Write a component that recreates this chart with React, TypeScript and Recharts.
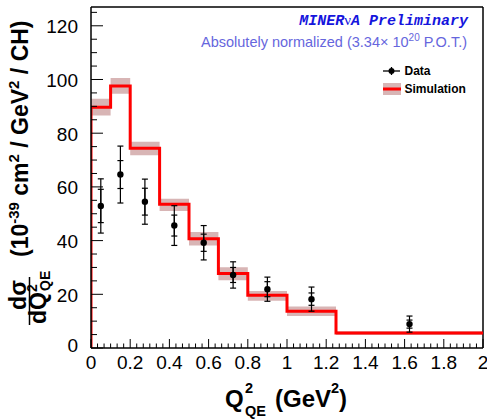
import React from 'react';
import { ComposedChart, Line, Area, Scatter, ErrorBar, XAxis, YAxis, ReferenceLine } from 'recharts';

// ---- data ----
const binEdges = [0, 0.1, 0.2, 0.35, 0.5, 0.65, 0.8, 1.0, 1.25, 2.0];
const simValues = [89.7, 97.6, 74.4, 53.5, 40.7, 27.7, 19.6, 13.7, 5.6];
const simBandLow = [86.6, 94.7, 71.8, 51.0, 38.2, 25.2, 17.6, 11.9, 4.8];
const simBandHigh = [92.8, 100.6, 76.8, 55.6, 43.2, 30.1, 21.2, 15.5, 6.2];

const dataX = [0.05, 0.15, 0.275, 0.425, 0.575, 0.725, 0.9, 1.125, 1.625];
const dataValues = [52.9, 64.6, 54.5, 45.6, 39.2, 27.2, 21.9, 18.2, 8.9];
const dataTotalErr = [10.1, 10.6, 8.4, 7.4, 6.4, 4.9, 4.5, 4.5, 3.0];
const dataStatErr = [6.2, 5.2, 5.0, 3.9, 3.2, 2.8, 2.8, 2.3, 1.5];

const xMajorTicks = [0, 0.2, 0.4, 0.6, 0.8, 1, 1.2, 1.4, 1.6, 1.8, 2];
const xMinorPerMajor = 6;
const yMajorTicks = [0, 20, 40, 60, 80, 100, 120];
const yMinorPerMajor = 4;
const xMax = 2;
const yMax = 127;

// ---- derived tables ----
const nBins = simValues.length;
const histLine = [
  { x: binEdges[0], y: 0 },
  ...simValues.map((v, i) => ({ x: binEdges[i], y: v })),
  { x: binEdges[nBins], y: simValues[nBins - 1] },
];
const histBand = binEdges.map((e, i) => {
  const k = Math.min(i, nBins - 1);
  return { x: e, band: [simBandLow[k], simBandHigh[k]] };
});
const dataPts = dataX.map((x, i) => ({
  x,
  y: dataValues[i],
  tot: dataTotalErr[i],
  stat: dataStatErr[i],
}));

const xStep = (xMajorTicks[1] - xMajorTicks[0]) / xMinorPerMajor;
const xTickValues: number[] = [];
for (let i = 0; i * xStep <= xMax + 1e-9; i++) xTickValues.push(Math.round(i * xStep * 1e6) / 1e6);
const yStep = (yMajorTicks[1] - yMajorTicks[0]) / yMinorPerMajor;
const yTickValues: number[] = [];
for (let v = 0; v <= yMax; v += yStep) yTickValues.push(v);

const SANS = 'Liberation Sans, Arial, Helvetica, sans-serif';

const isXMajor = (v: number) => xMajorTicks.some((t) => Math.abs(t - v) < 1e-6);
const isYMajor = (v: number) => yMajorTicks.some((t) => Math.abs(t - v) < 1e-6);

const XTick = (props: any) => {
  const { x, y, payload } = props;
  const v = payload.value;
  const major = isXMajor(v);
  return (
    <g>
      <line x1={x} x2={x} y1={y} y2={y - (major ? 9 : 4.5)} stroke="#000" strokeWidth={1} />
      {major && (
        <text x={x} y={y + 21} textAnchor="middle" fontSize={19} fontFamily={SANS} fill="#000">
          {String(Math.round(v * 10) / 10)}
        </text>
      )}
    </g>
  );
};

const YTick = (props: any) => {
  const { x, y, payload } = props;
  const v = payload.value;
  const major = isYMajor(v);
  return (
    <g>
      <line x1={x} x2={x + (major ? 12 : 6)} y1={y} y2={y} stroke="#000" strokeWidth={1} />
      {major && (
        <text
          x={x - 13}
          y={y + (v === 0 ? -3 : 1)}
          textAnchor="end"
          dominantBaseline="central"
          fontSize={19}
          fontFamily={SANS}
          fill="#000"
        >
          {String(v)}
        </text>
      )}
    </g>
  );
};

const BAND_FILL = '#b87878';
const BAND_OPACITY = 0.55;

export default function App() {
  return (
    <div style={{ position: 'absolute', left: 0, top: 0, width: 487, height: 419, background: '#fff' }}>
      <ComposedChart width={487} height={419} margin={{ top: 7, right: 4, bottom: 0, left: 0 }}>
        <XAxis
          dataKey="x"
          type="number"
          domain={[0, xMax]}
          allowDataOverflow
          ticks={xTickValues}
          interval={0}
          tickSize={0}
          tickMargin={0}
          tickLine={false}
          height={71}
          axisLine={{ stroke: '#000', strokeWidth: 1.5 }}
          tick={(p: any) => <XTick {...p} />}
        />
        <YAxis
          type="number"
          domain={[0, yMax]}
          allowDataOverflow
          ticks={yTickValues}
          interval={0}
          tickSize={0}
          tickMargin={0}
          tickLine={false}
          width={91}
          axisLine={{ stroke: '#000', strokeWidth: 1.5 }}
          tick={(p: any) => <YTick {...p} />}
        />
        <ReferenceLine y={yMax} stroke="#000" strokeWidth={1.5} ifOverflow="visible" />
        <ReferenceLine x={xMax} stroke="#000" strokeWidth={1.5} ifOverflow="visible" />
        <Area
          data={histBand}
          dataKey="band"
          type="stepAfter"
          stroke="none"
          fill={BAND_FILL}
          fillOpacity={BAND_OPACITY}
          isAnimationActive={false}
        />
        <Line
          data={histLine}
          dataKey="y"
          type="stepAfter"
          stroke="#ff0000"
          strokeWidth={3}
          dot={false}
          isAnimationActive={false}
        />
        <Scatter
          data={dataPts}
          dataKey="y"
          fill="#000"
          isAnimationActive={false}
          shape={(p: any) => <circle cx={p.cx} cy={p.cy} r={3.2} fill="#000" />}
        >
          <ErrorBar dataKey="tot" direction="y" width={3} stroke="#000" strokeWidth={1.2} isAnimationActive={false} />
          <ErrorBar dataKey="stat" direction="y" width={3} stroke="#000" strokeWidth={1.2} isAnimationActive={false} />
        </Scatter>
      </ComposedChart>

      <svg
        width={487}
        height={419}
        style={{ position: 'absolute', left: 0, top: 0, pointerEvents: 'none' }}
      >
        {/* Titles */}
        <text
          x={468}
          y={25}
          textAnchor="end"
          fontSize={15}
          fontFamily="Liberation Mono, Courier New, monospace"
          fontWeight="bold"
          fontStyle="italic"
          fill="#1515dd"
        >
          MINER<tspan fontFamily="Liberation Serif, serif" fontWeight="normal" fontStyle="normal">ν</tspan>A Preliminary
        </text>
        <text x={467} y={46.5} textAnchor="end" fontSize={14.5} fontFamily={SANS} fill="#6666dd">
          Absolutely normalized (3.34× 10<tspan dy={-6} fontSize={10}>20</tspan>
          <tspan dy={6}> P.O.T.)</tspan>
        </text>

        {/* Legend */}
        <line x1={383} x2={400} y1={71} y2={71} stroke="#000" strokeWidth={1.3} />
        <line x1={391.5} x2={391.5} y1={67} y2={75} stroke="#000" strokeWidth={1.3} />
        <circle cx={391.5} cy={71} r={3} fill="#000" />
        <text x={404.5} y={75} fontSize={12} fontWeight="bold" fontFamily={SANS} fill="#000">
          Data
        </text>
        <rect x={383} y={83} width={18} height={12} fill={BAND_FILL} fillOpacity={BAND_OPACITY} />
        <line x1={383} x2={401} y1={89} y2={89} stroke="#ff0000" strokeWidth={3} />
        <text x={404.5} y={92.7} fontSize={12} fontWeight="bold" fontFamily={SANS} fill="#000">
          Simulation
        </text>

        {/* X title */}
        <g fontFamily={SANS} fontWeight="bold" fill="#000">
          <text x={225} y={407} fontSize={24}>Q</text>
          <text x={245} y={393} fontSize={14.5}>2</text>
          <text x={245} y={416} fontSize={14.5}>QE</text>
          <text x={275} y={407} fontSize={24}>
            (GeV<tspan dy={-14} fontSize={14.5}>2</tspan>
            <tspan dy={14}>)</tspan>
          </text>
        </g>

        {/* Y title */}
        <g fontFamily={SANS} fontWeight="bold" fill="#000">
          <g transform="translate(28,257) rotate(-90)">
            <text x={0} y={0} fontSize={23}>
              (10<tspan dy={-9} fontSize={15}>-39</tspan>
              <tspan dy={9}> cm</tspan>
              <tspan dy={-9} fontSize={15}>2</tspan>
              <tspan dy={9}> / GeV</tspan>
              <tspan dy={-9} fontSize={15}>2</tspan>
              <tspan dy={9}> / CH)</tspan>
            </text>
          </g>
          <g transform="translate(26,295) rotate(-90)">
            <text x={0} y={0} fontSize={23} textAnchor="middle">dσ</text>
          </g>
          <line x1={29.5} x2={29.5} y1={277} y2={325} stroke="#000" strokeWidth={1.5} />
          <g transform="translate(46,324) rotate(-90)">
            <text x={0} y={0} fontSize={23}>dQ</text>
          </g>
          <g transform="translate(37,292) rotate(-90)">
            <text x={0} y={0} fontSize={14}>2</text>
          </g>
          <g transform="translate(50,291) rotate(-90)">
            <text x={0} y={0} fontSize={14}>QE</text>
          </g>
        </g>
      </svg>
    </div>
  );
}
